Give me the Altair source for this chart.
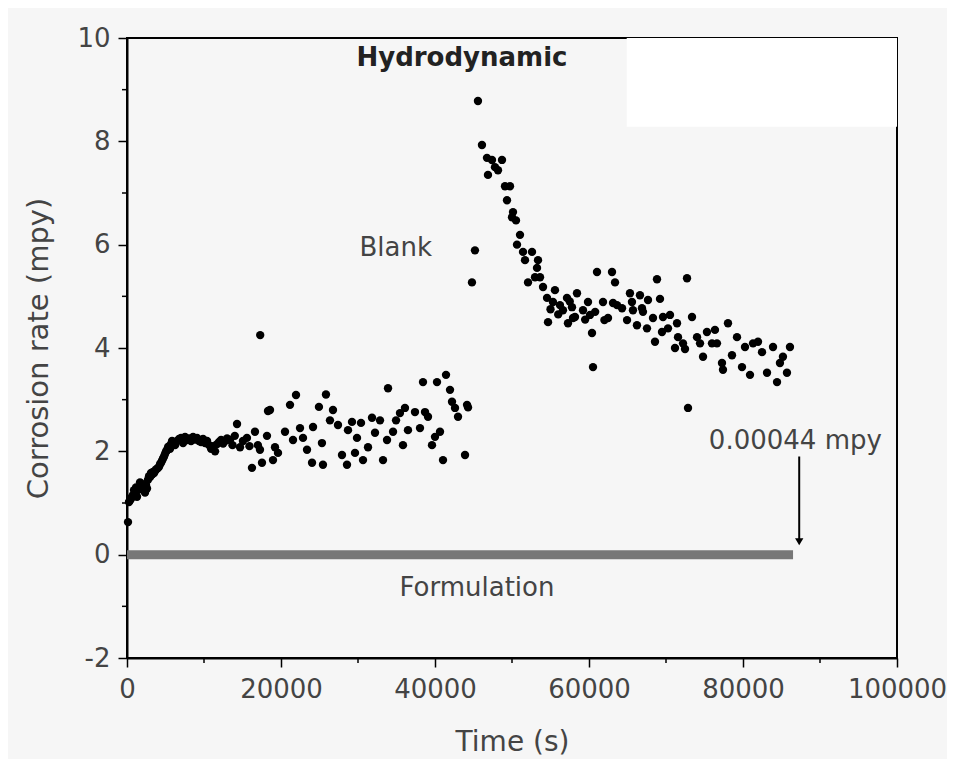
import altair as alt
import pandas as pd

# ---- data ----
blank_t = [130, 260, 390, 520, 650, 780, 910, 1040, 1170, 1300, 1430, 1560, 1690, 1820, 1950, 2080,
           2210, 2340, 2470, 2600, 2730, 2860, 2990, 3120, 3250, 3380, 3510, 3640, 3770,
           3900, 4030, 4160, 4290, 4420, 4550, 4680, 4810, 4940, 5070, 5200, 5330, 5460, 5590,
           5720, 5850, 5980, 6240, 6500, 6760, 7020, 7280,
           7540, 7800, 8060, 8320, 8580, 8840, 9100, 9360, 9620, 9880, 10140, 10400, 10660, 10920,
           11180, 11440, 11700, 11960, 12220, 12480, 12740, 13000, 13380, 13700, 14000, 14290,
           14680, 15060, 15580, 15900, 16230, 16620, 17000, 17270, 17300, 17530, 18180, 18310,
           18570, 18960, 19220, 19610, 20520, 21170, 21560, 21950, 22470, 22860, 23380, 24030,
           24160, 24930, 25320, 25450, 25840, 26360, 26750, 27400, 27920, 28570, 28700, 29220,
           29610, 29870, 30390, 30650, 31300, 31820, 32210, 32860, 33250, 33770, 33900, 34550,
           34940, 35450, 35840, 36100, 36490, 37400, 38050, 38440, 38700, 39090, 39610, 40000,
           40260, 40650, 41040, 41430, 41950, 42210, 42600, 42990, 43900, 44160, 44290,
           44800, 45190, 45580, 46100, 46750, 46880, 47400, 47790, 48180, 48700, 49090, 49350,
           49740, 50000, 50130, 50520, 50650, 51040, 51430, 51690, 52080, 52600, 52990, 53250,
           53380, 53640, 54030, 54550, 54680, 55000, 55320, 55580, 56000, 56230, 56620, 57140,
           57270, 57500, 57790, 57920, 58180, 58440, 59220, 59500, 59870, 60130, 60390, 60520,
           60800, 61040, 61820, 62000, 62470, 62990, 63120, 63380, 63640, 64290, 64940, 65320,
           65580, 65710, 66230, 66620, 66880, 67010, 67530, 67660, 68310, 68570, 68830, 69220,
           69480, 69610, 70260, 70520, 71170, 71430, 71560, 72210, 72470, 72730, 72860, 73380,
           74030, 74420, 74810, 75320, 75970, 76360, 76620, 77270, 77400, 78050, 78570, 79220,
           79870, 80260, 80910, 81300, 81950, 82470, 83120, 83900, 84420, 84800, 85190, 85710,
           86100]
blank_y = [0.63, 1.02, 1.05, 1.08, 1.12, 1.15, 1.25, 1.22, 1.30, 1.12, 1.25, 1.30, 1.40, 1.38, 1.28, 1.33,
           1.25, 1.20, 1.35, 1.28, 1.45, 1.52, 1.50, 1.58, 1.55, 1.60, 1.58, 1.62, 1.65,
           1.66, 1.68, 1.70, 1.75, 1.78, 1.82, 1.86, 1.90, 1.95, 2.00, 2.02, 2.08, 2.10, 2.05,
           2.14, 2.20, 2.18, 2.12, 2.20, 2.24, 2.26, 2.16,
           2.28, 2.22, 2.25, 2.20, 2.28, 2.23, 2.26, 2.20, 2.18, 2.24, 2.16, 2.20, 2.12, 2.05,
           2.10, 2.00, 2.14, 2.18, 2.22, 2.15, 2.20, 2.25, 2.22, 2.12, 2.30, 2.53,
           2.08, 2.20, 2.26, 2.10, 1.68, 2.38, 2.12, 2.03, 4.25, 1.78, 2.30, 2.78,
           2.80, 1.83, 2.08, 1.97, 2.38, 2.90, 2.22, 3.09, 2.45, 2.26, 2.03, 1.78,
           2.47, 2.86, 2.16, 1.74, 3.10, 2.60, 2.80, 2.51, 1.93, 1.74, 2.41, 2.57,
           1.97, 2.26, 2.55, 1.83, 2.08, 2.65, 2.36, 2.60, 1.83, 2.22, 3.22, 2.38,
           2.60, 2.74, 2.12, 2.84, 2.41, 2.76, 2.45, 3.34, 2.76, 2.67, 2.12, 2.28,
           3.34, 2.38, 1.83, 3.48, 3.19, 2.96, 2.84, 2.67, 1.93, 2.90, 2.85,
           5.27, 5.89, 8.78, 7.93, 7.68, 7.35, 7.64, 7.50, 7.44, 7.64, 7.13, 6.86,
           7.13, 6.53, 6.63, 6.47, 6.00, 6.19, 5.86, 5.70, 5.27, 5.86, 5.37, 5.55,
           5.70, 5.37, 5.18, 4.97, 4.50, 4.75, 4.89, 5.12, 4.65, 4.83, 4.73, 4.97,
           4.48, 4.90, 4.79, 4.58, 4.60, 5.06, 4.73, 4.55, 4.89, 4.64, 4.29, 3.63,
           4.70, 5.47, 4.89, 4.54, 4.58, 5.47, 4.87, 5.27, 4.83, 4.77, 4.54, 5.06,
           4.89, 4.73, 4.44, 5.02, 4.77, 4.70, 4.38, 4.93, 4.58, 4.12, 5.33, 4.95,
           4.31, 4.60, 4.38, 4.64, 4.00, 4.48, 4.21, 4.09, 3.98, 5.35, 2.84, 4.60,
           4.21, 4.09, 3.83, 4.31, 4.09, 4.35, 4.09, 3.71, 3.58, 4.48, 3.86, 4.21,
           3.63, 4.02, 3.48, 4.09, 4.12, 3.92, 3.52, 4.02, 3.34, 3.71, 3.83, 3.52,
           4.02]

form_t = [0, 86500]
form_y = [0.00044, 0.00044]

# erased legend box (white patch in the upper right)
patch_t = [64900, 100000]
patch_y = [8.28, 10]

label_text = ["Hydrodynamic", "Blank", "Formulation", "0.00044 mpy"]
label_t = [43500, 34900, 45450, 86800]
label_y = [9.62, 5.93, -0.64, 2.20]

arrow_t = 87300
arrow_y = [1.90, 0.25]

x_major = [0, 20000, 40000, 60000, 80000, 100000]
x_minor = [10000, 30000, 50000, 70000, 90000]
y_major = [-2, 0, 2, 4, 6, 8, 10]
y_minor = [-1, 1, 3, 5, 7, 9]

FONT = "DejaVu Sans"
TXT = "#444444"
xs = alt.Scale(domain=[0, 100000], nice=False, zero=False)
ys = alt.Scale(domain=[-2, 10], nice=False, zero=False)

blank_df = pd.DataFrame({"t": blank_t, "y": blank_y})
form_df = pd.DataFrame({"t": form_t, "y": form_y})
patch_df = pd.DataFrame({"t": [patch_t[0]], "t2": [patch_t[1]], "y": [patch_y[0]], "y2": [patch_y[1]]})
bold_df = pd.DataFrame({"txt": label_text[:1], "t": label_t[:1], "y": label_y[:1]})
text_df = pd.DataFrame({"txt": label_text[1:], "t": label_t[1:], "y": label_y[1:]})
arrow_df = pd.DataFrame({"t": [arrow_t], "y": [arrow_y[0]], "y2": [arrow_y[1]]})
head_df = pd.DataFrame({"t": [arrow_t], "y": [arrow_y[1]]})
xminor_df = pd.DataFrame({"t": x_minor})
yminor_df = pd.DataFrame({"y": y_minor})

x_axis = alt.Axis(
    title="Time (s)", values=x_major, labelExpr="'' + datum.value",
    tickSize=9, labelPadding=9, labelFontSize=26, labelFont=FONT, labelColor=TXT,
    titleFontSize=28, titleFont=FONT, titleColor=TXT, titleFontWeight="normal",
    titleY=84, titleBaseline="middle", labelFlush=False, labelOverlap=False,
    domainColor="black", domainWidth=2, tickColor="black", tickWidth=1.5, grid=False,
)
y_axis = alt.Axis(
    title="Corrosion rate (mpy)", values=y_major, labelExpr="'' + datum.value",
    tickSize=9, labelPadding=8, labelFontSize=26, labelFont=FONT, labelColor=TXT,
    titleFontSize=29, titleFont=FONT, titleColor=TXT, titleFontWeight="normal",
    titleX=-89, titleBaseline="middle", labelFlush=False, labelOverlap=False,
    domainColor="black", domainWidth=2, tickColor="black", tickWidth=1.5, grid=False,
)

X = alt.X("t:Q", scale=xs, axis=x_axis)
Y = alt.Y("y:Q", scale=ys, axis=y_axis)

patch = alt.Chart(patch_df).mark_rect(color="white").encode(x=X, x2="t2", y=Y, y2="y2")

form = alt.Chart(form_df).mark_line(color="#777777", strokeWidth=9).encode(x=X, y=Y)

blank = alt.Chart(blank_df).mark_point(filled=True, color="black", size=70, opacity=1).encode(x=X, y=Y)

bold_txt = alt.Chart(bold_df).mark_text(font=FONT, fontSize=26, fontWeight="bold", color="#222").encode(
    x=X, y=Y, text="txt:N")

txt = alt.Chart(text_df).mark_text(font=FONT, fontSize=26, color=TXT).encode(
    x=X, y=Y, text="txt:N")

arrow = alt.Chart(arrow_df).mark_rule(color="black", strokeWidth=2).encode(x=X, y=Y, y2="y2")

head = alt.Chart(head_df).mark_point(shape="triangle-down", filled=True, color="black", size=70, opacity=1).encode(
    x=X, y=Y)

xminor = alt.Chart(xminor_df).mark_rule(color="black", strokeWidth=1.5).encode(
    x=X, y=alt.value(620), y2=alt.value(625))
yminor = alt.Chart(yminor_df).mark_rule(color="black", strokeWidth=1.5).encode(
    y=Y, x=alt.value(0), x2=alt.value(-5))

chart = alt.layer(patch, form, blank, bold_txt, txt, arrow, head, xminor, yminor).properties(
    width=770, height=620,
    autosize=alt.AutoSizeParams(type="none"),
    padding={"left": 119, "top": 30, "right": 50, "bottom": 101},
    background="#f6f6f6",
).configure_view(stroke="black", strokeWidth=2)

chart.save("out.html", embed_options={"renderer": "svg", "actions": False})
